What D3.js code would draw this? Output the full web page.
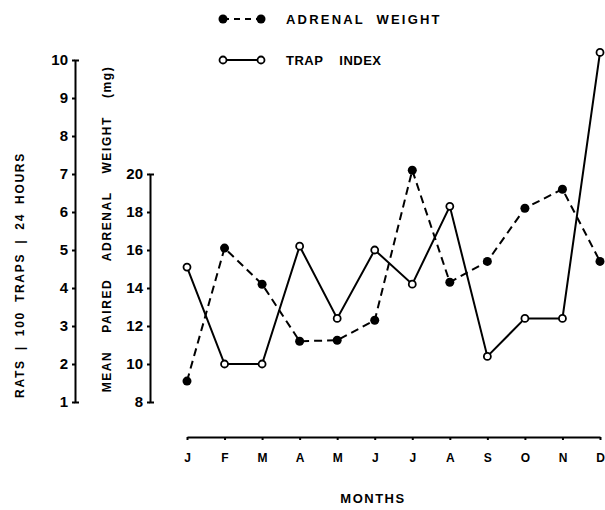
<!DOCTYPE html>
<meta charset="utf-8">
<script src="https://d3js.org/d3.v7.min.js"></script>
<style>
  body { margin: 0; background: #fff; }
  text { font-family: "Liberation Sans", Arial, sans-serif; font-weight: bold; fill: #000; }
</style>
<div id="chart"></div>
<script>
// months along the bottom
var months = ["J", "F", "M", "A", "M", "J", "J", "A", "S", "O", "N", "D"];

// trap index (rats / 100 traps / 24 hours), open circles, solid line
var trapIndex = [4.55, 2.0, 2.0, 5.1, 3.2, 5.0, 4.1, 6.15, 2.2, 3.2, 3.2, 10.2];

// mean paired adrenal weight (mg), filled circles, dashed line
var adrenalWeight = [9.1, 16.1, 14.2, 11.2, 11.25, 12.3, 20.2, 14.3, 15.4, 18.2, 19.2, 15.4];

var trapTicks = [1, 2, 3, 4, 5, 6, 7, 8, 9, 10];
var adrenalTicks = [8, 10, 12, 14, 16, 18, 20];

var width = 605, height = 510;

var svg = d3.select("#chart").append("svg")
  .attr("width", width)
  .attr("height", height);

//----- scales -----
var xs = d3.scalePoint()
  .domain(d3.range(months.length))
  .range([187, 600]);

var yTrap = d3.scaleLinear()
  .domain([1, 10])
  .range([402, 60]);

// adrenal axis shares the grid: 8 mg sits at trap 1, 20 mg at trap 7
var yAdr = d3.scaleLinear()
  .domain([8, 20])
  .range([yTrap(1), yTrap(7)]);

//----- left axis (trap index) -----
var trapAxis = svg.append("g")
  .attr("transform", "translate(75,0)")
  .call(d3.axisLeft(yTrap).tickValues(trapTicks).tickSize(3).tickSizeOuter(-4).tickPadding(4));

//----- second axis (adrenal weight) -----
var adrAxis = svg.append("g")
  .attr("transform", "translate(150,0)")
  .call(d3.axisLeft(yAdr).tickValues(adrenalTicks).tickSize(3).tickSizeOuter(-4).tickPadding(4));

//----- bottom axis -----
var xAxis = svg.append("g")
  .attr("transform", "translate(0,437)")
  .call(d3.axisBottom(xs).tickSize(3).tickSizeOuter(0).tickPadding(13)
    .tickFormat(function(i) { return months[i]; }));

[trapAxis, adrAxis, xAxis].forEach(function(g) {
  g.select(".domain").attr("stroke", "#000").attr("stroke-width", 2);
  g.selectAll(".tick line").attr("stroke", "#000").attr("stroke-width", 2);
  g.selectAll(".tick text").style("font-size", "15px").attr("fill", "#000");
});
xAxis.selectAll(".tick text").style("font-size", "12px");

//----- axis titles -----
svg.append("text")
  .attr("transform", "translate(24,275) rotate(-90)")
  .style("text-anchor", "middle")
  .style("font-size", "12px")
  .style("letter-spacing", "1.7px")
  .style("word-spacing", "4px")
  .text("RATS | 100 TRAPS | 24 HOURS");

svg.append("text")
  .attr("transform", "translate(111,229) rotate(-90)")
  .style("text-anchor", "middle")
  .style("font-size", "12px")
  .style("letter-spacing", "1.6px")
  .style("word-spacing", "13px")
  .text("MEAN PAIRED ADRENAL WEIGHT (mg)");

svg.append("text")
  .attr("x", 373)
  .attr("y", 503)
  .style("text-anchor", "middle")
  .style("font-size", "13px")
  .style("letter-spacing", "1.5px")
  .text("MONTHS");

//----- lines -----
var trapLine = d3.line()
  .x(function(d, i) { return xs(i); })
  .y(function(d) { return yTrap(d); });

var adrLine = d3.line()
  .x(function(d, i) { return xs(i); })
  .y(function(d) { return yAdr(d); });

svg.append("path")
  .datum(adrenalWeight)
  .attr("d", adrLine)
  .attr("fill", "none")
  .attr("stroke", "#000")
  .attr("stroke-width", 2)
  .attr("stroke-dasharray", "8,5");

svg.append("path")
  .datum(trapIndex)
  .attr("d", trapLine)
  .attr("fill", "none")
  .attr("stroke", "#000")
  .attr("stroke-width", 2);

svg.append("g").selectAll("circle")
  .data(adrenalWeight)
  .enter().append("circle")
  .attr("cx", function(d, i) { return xs(i); })
  .attr("cy", function(d) { return yAdr(d); })
  .attr("r", 4.5)
  .attr("fill", "#000");

svg.append("g").selectAll("circle")
  .data(trapIndex)
  .enter().append("circle")
  .attr("cx", function(d, i) { return xs(i); })
  .attr("cy", function(d) { return yTrap(d); })
  .attr("r", 3.5)
  .attr("fill", "#fff")
  .attr("stroke", "#000")
  .attr("stroke-width", 1.8);

//----- legend -----
var legend = svg.append("g");

legend.append("line")
  .attr("x1", 223).attr("x2", 261).attr("y1", 19).attr("y2", 19)
  .attr("stroke", "#000").attr("stroke-width", 2).attr("stroke-dasharray", "6,5");
legend.selectAll("circle.adr")
  .data([223, 261])
  .enter().append("circle")
  .attr("cx", function(d) { return d; })
  .attr("cy", 19)
  .attr("r", 4.5)
  .attr("fill", "#000");
legend.append("text")
  .attr("x", 286).attr("y", 24)
  .style("font-size", "13px")
  .style("letter-spacing", "2.2px")
  .style("word-spacing", "6px")
  .text("ADRENAL WEIGHT");

legend.append("line")
  .attr("x1", 223).attr("x2", 261).attr("y1", 60).attr("y2", 60)
  .attr("stroke", "#000").attr("stroke-width", 2);
legend.selectAll("circle.trap")
  .data([223, 261])
  .enter().append("circle")
  .attr("cx", function(d) { return d; })
  .attr("cy", 60)
  .attr("r", 3.5)
  .attr("fill", "#fff")
  .attr("stroke", "#000")
  .attr("stroke-width", 1.8);
legend.append("text")
  .attr("x", 286).attr("y", 65)
  .style("font-size", "13px")
  .style("letter-spacing", "0.5px")
  .style("word-spacing", "12px")
  .text("TRAP INDEX");
</script>
